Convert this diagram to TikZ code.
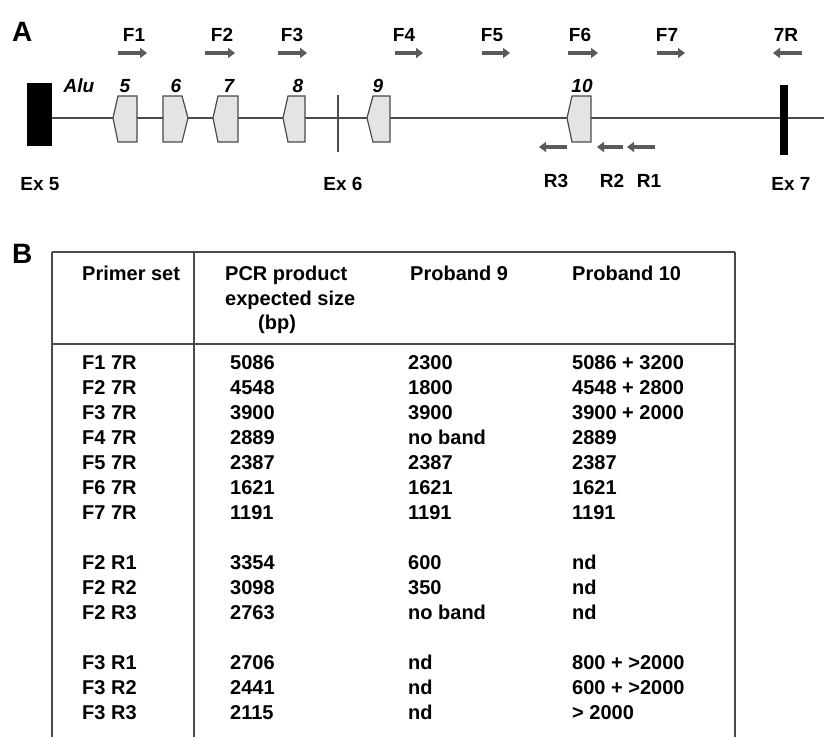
\documentclass[tikz,border=0pt]{standalone}
\usepackage{fontspec}
\setmainfont{Liberation Sans}
\usetikzlibrary{arrows.meta}
\definecolor{lncol}{HTML}{4A4A4A}
\definecolor{arrcol}{HTML}{5A5A5A}
\definecolor{exfill}{HTML}{E4E4E4}
\begin{document}
\begin{tikzpicture}[x=1pt,y=-1pt,
  panel/.style={font=\fontsize{28}{32}\selectfont\bfseries, inner sep=0pt, anchor=base west},
  lbl/.style={font=\fontsize{19}{22}\selectfont\bfseries, inner sep=0pt, anchor=base},
  exnum/.style={font=\fontsize{19}{22}\selectfont\bfseries\itshape, inner sep=0pt, anchor=base},
  cell/.style={font=\fontsize{20}{24}\selectfont\bfseries, inner sep=0pt, anchor=base west},
  primer/.style={line width=4.5pt, draw=arrcol, -{Triangle[length=7pt,width=10pt]}},
  exonbox/.style={fill=exfill, draw=lncol, line width=1.2pt, line join=miter},
  tline/.style={draw=lncol, line width=1.6pt},
  geneline/.style={draw=lncol, line width=1.4pt},
]
\useasboundingbox (0,0) rectangle (827,737);

% ---------- Panel A ----------
\node[panel] (pA) at (12,41) {A};

% primer labels
\node[lbl] (lF1) at (134,41.5) {F1};
\node[lbl] (lF2) at (222,41.5) {F2};
\node[lbl] (lF3) at (292,41.5) {F3};
\node[lbl] (lF4) at (404,41.5) {F4};
\node[lbl] (lF5) at (492,41.5) {F5};
\node[lbl] (lF6) at (580,41.5) {F6};
\node[lbl] (lF7) at (667,41.5) {F7};
\node[lbl] (l7R) at (786,41.5) {7R};

% forward / reverse primer arrows
\draw[primer] (118,53) -- (147,53);
\draw[primer] (205,53) -- (235,53);
\draw[primer] (278,53) -- (307,53);
\draw[primer] (395,53) -- (423,53);
\draw[primer] (482,53) -- (510,53);
\draw[primer] (568,53) -- (598,53);
\draw[primer] (657,53) -- (685,53);
\draw[primer] (802,53) -- (773,53);

\draw[primer] (567,147) -- (539,147);
\draw[primer] (623,147) -- (597,147);
\draw[primer] (655,147) -- (627,147);

\node[lbl] (lR3) at (556,187) {R3};
\node[lbl] (lR2) at (612,187) {R2};
\node[lbl] (lR1) at (649,187) {R1};

% gene line
\draw[geneline] (52,118) -- (824,118);

% exons 5 and 7
\fill[black] (27,83) rectangle (52,146);
\fill[black] (780,85) rectangle (788,155);
\draw[lncol, line width=1.2pt] (338,95) -- (338,152);

% Alu exons
\draw[exonbox] (118,96) -- (137,96) -- (137,142) -- (118,142) -- (113,118) -- cycle;
\draw[exonbox] (163,96) -- (182,96) -- (188,118) -- (182,142) -- (163,142) -- cycle;
\draw[exonbox] (218,96) -- (238,96) -- (238,142) -- (218,142) -- (213,118) -- cycle;
\draw[exonbox] (288,96) -- (305,96) -- (305,142) -- (288,142) -- (283,118) -- cycle;
\draw[exonbox] (373,96) -- (390,96) -- (390,142) -- (373,142) -- (367,118) -- cycle;
\draw[exonbox] (572,96) -- (591,96) -- (591,142) -- (572,142) -- (567,118) -- cycle;

\node[exnum] (alu) at (79,92) {Alu};
\node[exnum] (n5) at (125,92) {5};
\node[exnum] (n6) at (176,92) {6};
\node[exnum] (n7) at (229,92) {7};
\node[exnum] (n8) at (298,92) {8};
\node[exnum] (n9) at (378,92) {9};
\node[exnum] (n10) at (582,92) {10};

\node[lbl] (ex5) at (40,190) {Ex 5};
\node[lbl] (ex6) at (343,190) {Ex 6};
\node[lbl] (ex7) at (791,190) {Ex 7};

% ---------- Panel B ----------
\node[panel] (pB) at (12,263) {B};

\draw[tline] (52,252) -- (735,252);
\draw[tline] (52,344) -- (735,344);
\draw[tline] (52,252) -- (52,737);
\draw[tline] (194,252) -- (194,737);
\draw[tline] (735,252) -- (735,737);

\node[cell] (h1) at (82,280) {Primer set};
\node[cell] (h2a) at (225,280) {PCR product};
\node[cell] (h2b) at (225,305) {expected size};
\node[cell] (h2c) at (258,329) {(bp)};
\node[cell] (h3) at (410,280) {Proband 9};
\node[cell] (h4) at (572,280) {Proband 10};

\foreach \i/\a/\b/\c/\d in {
  0/F1 7R/5086/2300/5086 + 3200,
  1/F2 7R/4548/1800/4548 + 2800,
  2/F3 7R/3900/3900/3900 + 2000,
  3/F4 7R/2889/no band/2889,
  4/F5 7R/2387/2387/2387,
  5/F6 7R/1621/1621/1621,
  6/F7 7R/1191/1191/1191,
  8/F2 R1/3354/600/nd,
  9/F2 R2/3098/350/nd,
  10/F2 R3/2763/no band/nd,
  12/F3 R1/2706/nd/800 + >2000,
  13/F3 R2/2441/nd/600 + >2000,
  14/F3 R3/2115/nd/> 2000}{
  \node[cell] (r\i a) at (82,369.2+25*\i) {\a};
  \node[cell] (r\i b) at (230,369.2+25*\i) {\b};
  \node[cell] (r\i c) at (408,369.2+25*\i) {\c};
  \node[cell] (r\i d) at (572,369.2+25*\i) {\d};
}
\end{tikzpicture}
\end{document}
